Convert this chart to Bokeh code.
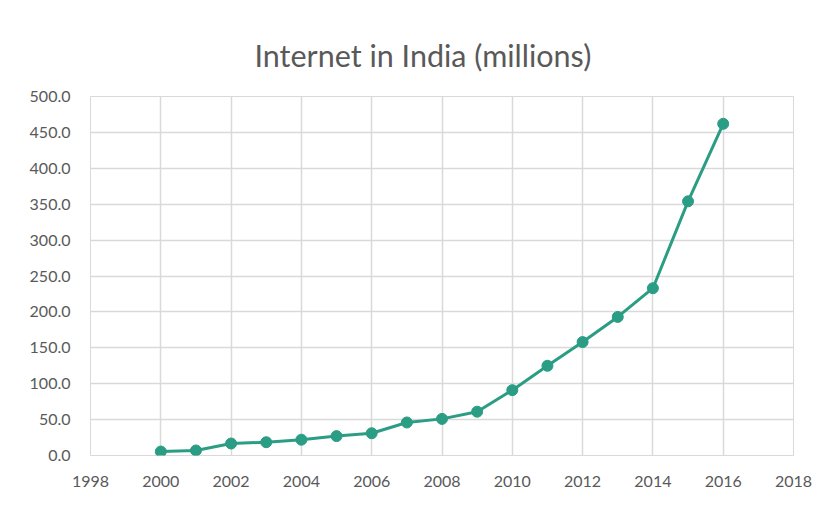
from bokeh.plotting import figure
from bokeh.embed import file_html
from bokeh.resources import INLINE
from bokeh.models import NumeralTickFormatter, FixedTicker, Range1d

years = [2000, 2001, 2002, 2003, 2004, 2005, 2006, 2007, 2008,
         2009, 2010, 2011, 2012, 2013, 2014, 2015, 2016]
users = [5.5, 7.0, 16.7, 18.5, 22.0, 27.0, 31.0, 46.0, 51.0,
         61.0, 91.0, 125.0, 158.0, 193.0, 233.0, 354.0, 462.0]
x_ticks = [1998, 2000, 2002, 2004, 2006, 2008, 2010, 2012, 2014, 2016, 2018]
y_ticks = [0, 50, 100, 150, 200, 250, 300, 350, 400, 450, 500]
title = "Internet in India (millions)"

FONT = "Lato"
GRAY = "#595959"
TEAL = "#2a9d84"

p = figure(width=832, height=506, output_backend="svg", toolbar_location=None,
           x_range=Range1d(1998, 2018), y_range=Range1d(0, 500),
           min_border_left=90, min_border_right=39, min_border_top=96,
           min_border_bottom=51)
p.title.text = title
p.title.align = "left"
p.title.offset = 164
p.title.standoff = 48
p.title.text_font = FONT
p.title.text_font_size = "30.5px"
p.title.text_font_style = "normal"
p.title.text_color = GRAY

p.line(years, users, line_color=TEAL, line_width=3)
p.scatter(years, users, size=11, fill_color=TEAL, line_color=TEAL)

p.xaxis.ticker = FixedTicker(ticks=x_ticks)
p.yaxis.ticker = FixedTicker(ticks=y_ticks)
p.yaxis.formatter = NumeralTickFormatter(format="0.0")
for ax in (p.xaxis[0], p.yaxis[0]):
    ax.axis_line_color = None
    ax.major_tick_line_color = None
    ax.minor_tick_line_color = None
    ax.major_label_text_font = FONT
    ax.major_label_text_font_size = "16px"
    ax.major_label_text_color = GRAY
p.xaxis.major_label_standoff = 14
p.yaxis.major_label_standoff = 14

p.xgrid.grid_line_color = "#d9d9d9"
p.ygrid.grid_line_color = "#d9d9d9"
p.xgrid.grid_line_width = 1.5
p.ygrid.grid_line_width = 1.5
p.outline_line_color = "#d9d9d9"
p.background_fill_color = "white"
p.border_fill_color = "white"

open("out.html", "w").write(file_html(p, INLINE))
